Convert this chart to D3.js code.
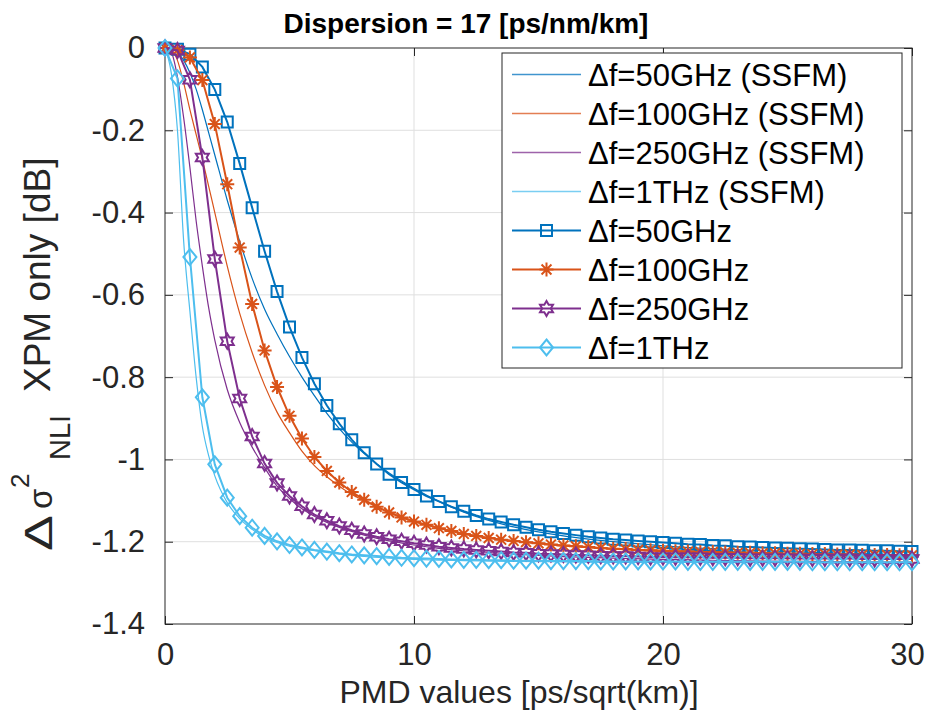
<!DOCTYPE html>
<html lang="en">
<head>
<meta charset="UTF-8">
<script src="https://cdn.jsdelivr.net/npm/d3@7"></script>
<title>Dispersion = 17 [ps/nm/km]</title>
<style>
  body { margin: 0; background: #fff; }
  svg { display: block; font-family: "Liberation Sans", Arial, sans-serif; }
</style>
</head>
<body>
<svg id="chart" width="928" height="718"></svg>
<script>
// PMD grid of the model curves (with markers)
const pmd = [0,0.5,1,1.5,2,2.5,3,3.5,4,4.5,5,5.5,6,6.5,7,7.5,8,8.5,9,9.5,10,10.5,11,11.5,12,12.5,13,13.5,14,14.5,
  15,15.5,16,16.5,17,17.5,18,18.5,19,19.5,20,20.5,21,21.5,22,22.5,23,23.5,24,24.5,25,25.5,26,26.5,27,27.5,28,28.5,29,29.5,30];

const model50 = [0,-0.003,-0.015,-0.046,-0.101,-0.180,-0.281,-0.388,-0.494,-0.592,-0.678,-0.752,-0.816,-0.869,-0.913,-0.952,
  -0.984,-1.011,-1.036,-1.056,-1.073,-1.089,-1.102,-1.115,-1.126,-1.136,-1.145,-1.152,-1.159,-1.165,-1.171,-1.176,-1.180,
  -1.184,-1.188,-1.191,-1.194,-1.196,-1.198,-1.200,-1.202,-1.204,-1.206,-1.207,-1.209,-1.210,-1.212,-1.213,-1.214,-1.215,
  -1.216,-1.217,-1.218,-1.219,-1.220,-1.220,-1.221,-1.222,-1.222,-1.223,-1.224];
const model100 = [0,-0.005,-0.023,-0.078,-0.185,-0.331,-0.485,-0.622,-0.735,-0.824,-0.894,-0.949,-0.994,-1.028,-1.056,-1.079,
  -1.098,-1.115,-1.129,-1.141,-1.151,-1.159,-1.167,-1.174,-1.181,-1.186,-1.191,-1.195,-1.198,-1.201,-1.204,-1.207,-1.209,
  -1.211,-1.213,-1.215,-1.217,-1.218,-1.220,-1.221,-1.222,-1.223,-1.224,-1.225,-1.225,-1.226,-1.227,-1.227,-1.228,-1.228,
  -1.229,-1.229,-1.230,-1.230,-1.231,-1.231,-1.232,-1.232,-1.232,-1.233,-1.233];
const model250 = [0,-0.006,-0.077,-0.266,-0.513,-0.713,-0.852,-0.944,-1.010,-1.057,-1.089,-1.114,-1.134,-1.149,-1.162,-1.172,
  -1.181,-1.188,-1.194,-1.199,-1.204,-1.208,-1.212,-1.215,-1.218,-1.220,-1.222,-1.224,-1.226,-1.227,-1.229,-1.230,-1.231,
  -1.232,-1.233,-1.234,-1.235,-1.235,-1.236,-1.237,-1.237,-1.238,-1.238,-1.238,-1.239,-1.239,-1.239,-1.240,-1.240,-1.240,
  -1.240,-1.241,-1.241,-1.241,-1.241,-1.241,-1.242,-1.242,-1.242,-1.242,-1.242];
const model1T = [0,-0.074,-0.508,-0.849,-1.012,-1.093,-1.138,-1.166,-1.186,-1.199,-1.208,-1.214,-1.220,-1.224,-1.228,-1.231,
  -1.233,-1.235,-1.237,-1.239,-1.240,-1.241,-1.242,-1.243,-1.244,-1.244,-1.245,-1.245,-1.246,-1.246,-1.246,-1.247,-1.247,
  -1.247,-1.247,-1.248,-1.248,-1.248,-1.248,-1.248,-1.248,-1.248,-1.249,-1.249,-1.249,-1.249,-1.249,-1.249,-1.249,-1.249,
  -1.249,-1.249,-1.250,-1.250,-1.250,-1.250,-1.250,-1.250,-1.250,-1.250,-1.250];

// SSFM reference curves (thin lines)
const pmdSsfm = [0,0.25,0.5,0.75,1,1.25,1.5,1.75,2,2.5,3,3.5,4,4.5,5,5.5,6,6.5,7,7.5,8,9,10,11,12,14,16,18,20,22,24,26,28,30];
const ssfm50 = [0,-0.002,-0.010,-0.030,-0.060,-0.100,-0.150,-0.205,-0.260,-0.370,-0.470,-0.560,-0.635,-0.695,-0.750,-0.800,
  -0.845,-0.888,-0.925,-0.958,-0.986,-1.033,-1.070,-1.102,-1.128,-1.164,-1.186,-1.200,-1.210,-1.217,-1.222,-1.226,-1.229,-1.232];
const ssfm100 = [0,-0.005,-0.030,-0.085,-0.150,-0.210,-0.270,-0.335,-0.400,-0.530,-0.645,-0.740,-0.820,-0.885,-0.935,-0.980,
  -1.015,-1.042,-1.065,-1.085,-1.100,-1.128,-1.150,-1.166,-1.180,-1.198,-1.210,-1.218,-1.224,-1.228,-1.231,-1.233,-1.235,-1.236];
const ssfm250 = [0,-0.010,-0.070,-0.170,-0.290,-0.420,-0.530,-0.630,-0.710,-0.830,-0.910,-0.970,-1.020,-1.065,-1.095,-1.120,
  -1.138,-1.153,-1.165,-1.175,-1.184,-1.198,-1.208,-1.216,-1.222,-1.230,-1.236,-1.240,-1.243,-1.245,-1.247,-1.248,-1.249,-1.250];
const ssfm1T = [0,-0.060,-0.200,-0.470,-0.640,-0.800,-0.920,-0.990,-1.040,-1.105,-1.144,-1.170,-1.190,-1.202,-1.211,-1.217,
  -1.222,-1.226,-1.230,-1.233,-1.236,-1.240,-1.243,-1.245,-1.246,-1.248,-1.249,-1.250,-1.250,-1.251,-1.251,-1.251,-1.252,-1.252];

const legendLabels = ["\u0394f=50GHz (SSFM)", "\u0394f=100GHz (SSFM)", "\u0394f=250GHz (SSFM)", "\u0394f=1THz (SSFM)",
  "\u0394f=50GHz", "\u0394f=100GHz", "\u0394f=250GHz", "\u0394f=1THz"];
const colors = ["#0072BD", "#D95319", "#7E2F8E", "#4DBEEE"];
const markers = ["square", "asterisk", "hexagram", "diamond"];

const xTicks = [0, 10, 20, 30];
const yTicks = [0, -0.2, -0.4, -0.6, -0.8, -1, -1.2, -1.4];
const yTickLabels = ["0", "-0.2", "-0.4", "-0.6", "-0.8", "-1", "-1.2", "-1.4"];

const width = 928, height = 718;
const margin = {top: 48, right: 16, bottom: 94, left: 165};
const innerW = width - margin.left - margin.right;
const innerH = height - margin.top - margin.bottom;

const svg = d3.select("#chart");
const g = svg.append("g").attr("transform", `translate(${margin.left},${margin.top})`);

const x = d3.scaleLinear().domain([0, 30]).range([0, innerW]);
const y = d3.scaleLinear().domain([-1.4, 0]).range([innerH, 0]);

// grid
g.append("g").selectAll("line").data(xTicks.slice(1, -1)).join("line")
  .attr("x1", d => x(d)).attr("x2", d => x(d)).attr("y1", 0).attr("y2", innerH)
  .attr("stroke", "#dfdfdf").attr("stroke-width", 1);
g.append("g").selectAll("line").data(yTicks.slice(1, -1)).join("line")
  .attr("y1", d => y(d)).attr("y2", d => y(d)).attr("x1", 0).attr("x2", innerW)
  .attr("stroke", "#dfdfdf").attr("stroke-width", 1);

// axes (ticks point inward, MATLAB style)
const axisColor = "#262626";
function styleAxis(sel) {
  sel.select(".domain").remove();
  sel.selectAll(".tick line").attr("stroke", axisColor);
  sel.selectAll(".tick text").attr("fill", axisColor).attr("font-size", 31);
}
g.append("g").attr("transform", `translate(0,${innerH})`)
  .call(d3.axisBottom(x).tickValues(xTicks).tickFormat(d3.format("d")).tickSizeInner(-8).tickSizeOuter(0).tickPadding(19))
  .call(styleAxis)
  .call(a => a.selectAll(".tick text").filter(d => d === 30).attr("dx", -5));
g.append("g")
  .call(d3.axisLeft(y).tickValues(yTicks).tickFormat((d, i) => yTickLabels[i]).tickSizeInner(-8).tickSizeOuter(0).tickPadding(20))
  .call(styleAxis);
g.append("g")
  .call(d3.axisTop(x).tickValues(xTicks).tickFormat("").tickSizeInner(-8).tickSizeOuter(0))
  .call(styleAxis);
g.append("g").attr("transform", `translate(${innerW},0)`)
  .call(d3.axisRight(y).tickValues(yTicks).tickFormat("").tickSizeInner(-8).tickSizeOuter(0))
  .call(styleAxis);
g.append("rect").attr("width", innerW).attr("height", innerH)
  .attr("fill", "none").attr("stroke", axisColor).attr("stroke-width", 1);

// marker shapes
function markerPath(type) {
  if (type === "square") return "M-5.5,-5.5H5.5V5.5H-5.5Z";
  if (type === "diamond") return "M0,-8L6.5,0L0,8L-6.5,0Z";
  if (type === "asterisk") {
    const r = 7, a = r * 0.7071;
    return `M0,${-r}V${r}M${-r},0H${r}M${-a},${-a}L${a},${a}M${-a},${a}L${a},${-a}`;
  }
  // hexagram
  const R = 7.5, rIn = R / Math.sqrt(3);
  const pts = d3.range(12).map(i => {
    const ang = -Math.PI / 2 + i * Math.PI / 6;
    const rr = i % 2 === 0 ? R : rIn;
    return [rr * Math.cos(ang), rr * Math.sin(ang)];
  });
  return "M" + pts.map(p => p.join(",")).join("L") + "Z";
}

const ssfmSeries = [ssfm50, ssfm100, ssfm250, ssfm1T];
const modelSeries = [model50, model100, model250, model1T];

const ssfmLine = d3.line().x(d => x(d[0])).y(d => y(d[1])).curve(d3.curveMonotoneX);
const modelLine = d3.line().x(d => x(d[0])).y(d => y(d[1]));

ssfmSeries.forEach((vals, i) => {
  g.append("path").datum(pmdSsfm.map((p, j) => [p, vals[j]]))
    .attr("d", ssfmLine).attr("fill", "none")
    .attr("stroke", colors[i]).attr("stroke-width", 1.2);
});

modelSeries.forEach((vals, i) => {
  const pts = pmd.map((p, j) => [p, vals[j]]);
  g.append("path").datum(pts).attr("d", modelLine).attr("fill", "none")
    .attr("stroke", colors[i]).attr("stroke-width", 2);
  g.append("g").selectAll("path").data(pts).join("path")
    .attr("transform", d => `translate(${x(d[0])},${y(d[1])})`)
    .attr("d", markerPath(markers[i]))
    .attr("fill", "none").attr("stroke", colors[i]).attr("stroke-width", 2);
});

// legend
const leg = svg.append("g").attr("transform", "translate(502,53)");
leg.append("rect").attr("width", 400).attr("height", 315)
  .attr("fill", "#fff").attr("stroke", axisColor).attr("stroke-width", 1);
legendLabels.forEach((lab, i) => {
  const cy = 21.5 + i * 39;
  const c = colors[i % 4];
  const row = leg.append("g").attr("transform", `translate(0,${cy})`);
  row.append("line").attr("x1", 10).attr("x2", 79).attr("y1", 0).attr("y2", 0)
    .attr("stroke", c).attr("stroke-width", i < 4 ? 1.5 : 2)
    .attr("stroke-opacity", i < 4 ? 0.75 : 1);
  if (i >= 4) {
    row.append("path").attr("transform", "translate(44.5,0)")
      .attr("d", markerPath(markers[i - 4]))
      .attr("fill", "none").attr("stroke", c).attr("stroke-width", 2);
  }
  row.append("text").attr("x", 86).attr("y", 11).attr("font-size", 31).attr("fill", "#000").text(lab);
});

// title and axis labels
svg.append("text").attr("x", 466).attr("y", 33).attr("text-anchor", "middle")
  .attr("font-size", 28).attr("font-weight", "bold").attr("fill", "#000")
  .text("Dispersion = 17 [ps/nm/km]");
svg.append("text").attr("x", 519).attr("y", 703).attr("text-anchor", "middle")
  .attr("font-size", 32).attr("fill", axisColor)
  .text("PMD values [ps/sqrt(km)]");

const yl = svg.append("g").attr("transform", "translate(0,552) rotate(-90)").attr("fill", axisColor);
yl.append("text").attr("x", 1).attr("y", 52).attr("font-size", 38).attr("font-weight", 300)
  .attr("textLength", 36).attr("lengthAdjust", "spacingAndGlyphs").text("\u0394");
yl.append("text").attr("x", 43).attr("y", 52).attr("font-size", 33).text("\u03C3");
yl.append("text").attr("x", 64).attr("y", 29).attr("font-size", 26).text("2");
yl.append("text").attr("x", 92).attr("y", 70).attr("font-size", 29).text("NLI");
yl.append("text").attr("x", 160).attr("y", 50).attr("font-size", 37).text("XPM only [dB]");
</script>
</body>
</html>
